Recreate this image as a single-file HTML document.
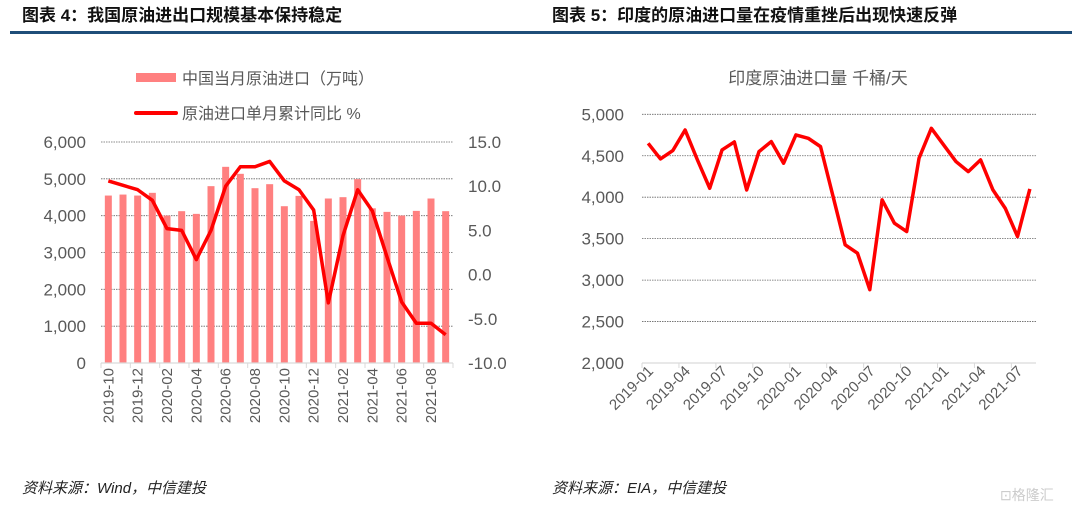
<!DOCTYPE html>
<html><head><meta charset="utf-8"><style>
body{margin:0;width:1080px;height:513px;background:#fff;overflow:hidden;font-family:"Liberation Sans","Noto Sans CJK SC",sans-serif}
svg text{font-family:"Liberation Sans","Noto Sans CJK SC",sans-serif}
</style></head><body>
<svg width="1080" height="513">
<text x="22" y="21" font-size="17" font-weight="bold" fill="#111">图表 4：我国原油进出口规模基本保持稳定</text>
<text x="552" y="21" font-size="17" font-weight="bold" fill="#111">图表 5：印度的原油进口量在疫情重挫后出现快速反弹</text>
<rect x="10" y="31" width="1062" height="3" fill="#1f4e79"/>
<g id="left"></g>
<g id="right"></g>
<text x="22" y="493" font-size="15" font-style="italic" fill="#222" font-family="Liberation Serif,Noto Serif CJK SC,serif">资料来源：Wind，中信建投</text>
<text x="552" y="493" font-size="15" font-style="italic" fill="#222" font-family="Liberation Serif,Noto Serif CJK SC,serif">资料来源：EIA，中信建投</text>
<text x="1000" y="500" font-size="14" fill="#ccc">⊡格隆汇</text>
</svg>
<script>
const NS='http://www.w3.org/2000/svg';
function mk(p,t,a){const e=document.createElementNS(NS,t);for(const k in a)e.setAttribute(k,a[k]);p.appendChild(e);return e;}
// Left chart data
const leftCats=['2019-10','2019-11','2019-12','2020-01','2020-02','2020-03','2020-04','2020-05','2020-06','2020-07','2020-08','2020-09','2020-10','2020-11','2020-12','2021-01','2021-02','2021-03','2021-04','2021-05','2021-06','2021-07','2021-08','2021-09'];
const importVol=[4546,4573,4546,4620,4003,4122,4049,4801,5326,5136,4746,4855,4257,4537,3859,4466,4502,4991,4200,4103,4003,4130,4466,4122];
const yoyPct=[10.6,10.1,9.6,8.4,5.2,5.0,1.7,5.0,10.0,12.2,12.2,12.8,10.6,9.6,7.3,-3.2,4.4,9.6,7.2,2.0,-3.1,-5.5,-5.5,-6.8];
const leftTicks=[0,1000,2000,3000,4000,5000,6000];
const leftTickLabels=['0','1,000','2,000','3,000','4,000','5,000','6,000'];
const rightTicks=[-10,-5,0,5,10,15];
const rightTickLabels=['-10.0','-5.0','0.0','5.0','10.0','15.0'];
// Right chart data
const indiaCats=['2019-01','2019-02','2019-03','2019-04','2019-05','2019-06','2019-07','2019-08','2019-09','2019-10','2019-11','2019-12','2020-01','2020-02','2020-03','2020-04','2020-05','2020-06','2020-07','2020-08','2020-09','2020-10','2020-11','2020-12','2021-01','2021-02','2021-03','2021-04','2021-05','2021-06','2021-07','2021-08'];
const indiaImports=[4650,4462,4562,4811,4450,4108,4570,4667,4088,4550,4671,4410,4751,4711,4610,4020,3426,3325,2884,3968,3687,3586,4470,4831,4630,4430,4309,4450,4088,3867,3526,4100];
const indiaTicks=[2000,2500,3000,3500,4000,4500,5000];
const indiaTickLabels=['2,000','2,500','3,000','3,500','4,000','4,500','5,000'];

(function(){
const g=document.getElementById('left');
const L=101,R=453,T=142,B=363;
const yL=v=>B-(v/6000)*(B-T);
const yR=v=>B-((v+10)/25)*(B-T);
const cw=(R-L)/leftCats.length;
const xC=i=>L+cw*(i+0.5);
leftTicks.forEach((v,i)=>{
 if(v>0){const l=mk(g,'line',{x1:L,x2:R,y1:yL(v),y2:yL(v),stroke:'#666','stroke-width':0.8,'stroke-dasharray':'1.5,1'});
 
 }
 const t=mk(g,'text',{x:86,y:yL(v)+6,'text-anchor':'end','font-size':17,fill:'#595959'});t.textContent=leftTickLabels[i];
 
 
});
rightTicks.forEach((v,i)=>{
 const t=mk(g,'text',{x:468,y:yR(v)+6,'font-size':17,fill:'#595959'});t.textContent=rightTickLabels[i];
 
 
});
importVol.forEach((v,i)=>{
 const r=mk(g,'rect',{x:xC(i)-3.5,y:yL(v),width:7,height:B-yL(v),fill:'#ff8080'});
 
 
});
const ax=mk(g,'line',{x1:L,x2:R,y1:B,y2:B,stroke:'#d9d9d9','stroke-width':1.2});


for(let i=0;i<=leftCats.length;i+=2){mk(g,'line',{x1:L+cw*i,x2:L+cw*i,y1:B,y2:B+5,stroke:'#d9d9d9'});}
leftCats.forEach((c,i)=>{ if(i%2)return;
 const t=mk(g,'text',{x:0,y:0,'text-anchor':'end','font-size':15,fill:'#595959',transform:`translate(${xC(i)+5},368) rotate(-90)`});t.textContent=c;
 
 
});
const p=mk(g,'polyline',{points:yoyPct.map((v,i)=>xC(i)+','+yR(v)).join(' '),fill:'none',stroke:'#ff0000','stroke-width':3.5,'stroke-linejoin':'round'});


const lb=mk(g,'rect',{x:136,y:73,width:40,height:9,fill:'#ff8080'});


const lt1=mk(g,'text',{x:182,y:84,'font-size':16,fill:'#595959'});lt1.textContent='中国当月原油进口（万吨）';


const ll=mk(g,'line',{x1:136,x2:176,y1:113,y2:113,stroke:'#ff0000','stroke-width':4,'stroke-linecap':'round'});


const lt2=mk(g,'text',{x:182,y:119,'font-size':16,fill:'#595959'});lt2.textContent='原油进口单月累计同比 %';


})();

(function(){
const g=document.getElementById('right');
const L=642,R=1036,T=114.3,B=363;
const y=v=>B-((v-2000)/3000)*(B-T);
const n=indiaCats.length,cw=(R-L)/n;
const xC=i=>L+cw*(i+0.5);
indiaTicks.forEach((v,i)=>{
 if(v>2000){const l=mk(g,'line',{x1:L,x2:R,y1:y(v),y2:y(v),stroke:'#666','stroke-width':0.8,'stroke-dasharray':'1.5,1'});
 
 }
 const t=mk(g,'text',{x:624,y:y(v)+6,'text-anchor':'end','font-size':17,fill:'#595959'});t.textContent=indiaTickLabels[i];
 
 
});
const ax=mk(g,'line',{x1:L,x2:R,y1:B,y2:B,stroke:'#d9d9d9','stroke-width':1.2});


for(let i=0;i<n;i+=3){mk(g,'line',{x1:L+cw*i,x2:L+cw*i,y1:B,y2:B+5,stroke:'#d9d9d9'});}
indiaCats.forEach((c,i)=>{ if(i%3)return;
 const t=mk(g,'text',{x:0,y:0,'text-anchor':'end','font-size':15,fill:'#595959',transform:`translate(${xC(i)+6},372) rotate(-45)`});t.textContent=c;
 
 
});
const p=mk(g,'polyline',{points:indiaImports.map((v,i)=>xC(i)+','+y(v)).join(' '),fill:'none',stroke:'#ff0000','stroke-width':3.5,'stroke-linejoin':'round'});


const tt=mk(g,'text',{x:818,y:84,'text-anchor':'middle','font-size':17,fill:'#595959'});tt.textContent='印度原油进口量 千桶/天';


})();
</script>
</body></html>
